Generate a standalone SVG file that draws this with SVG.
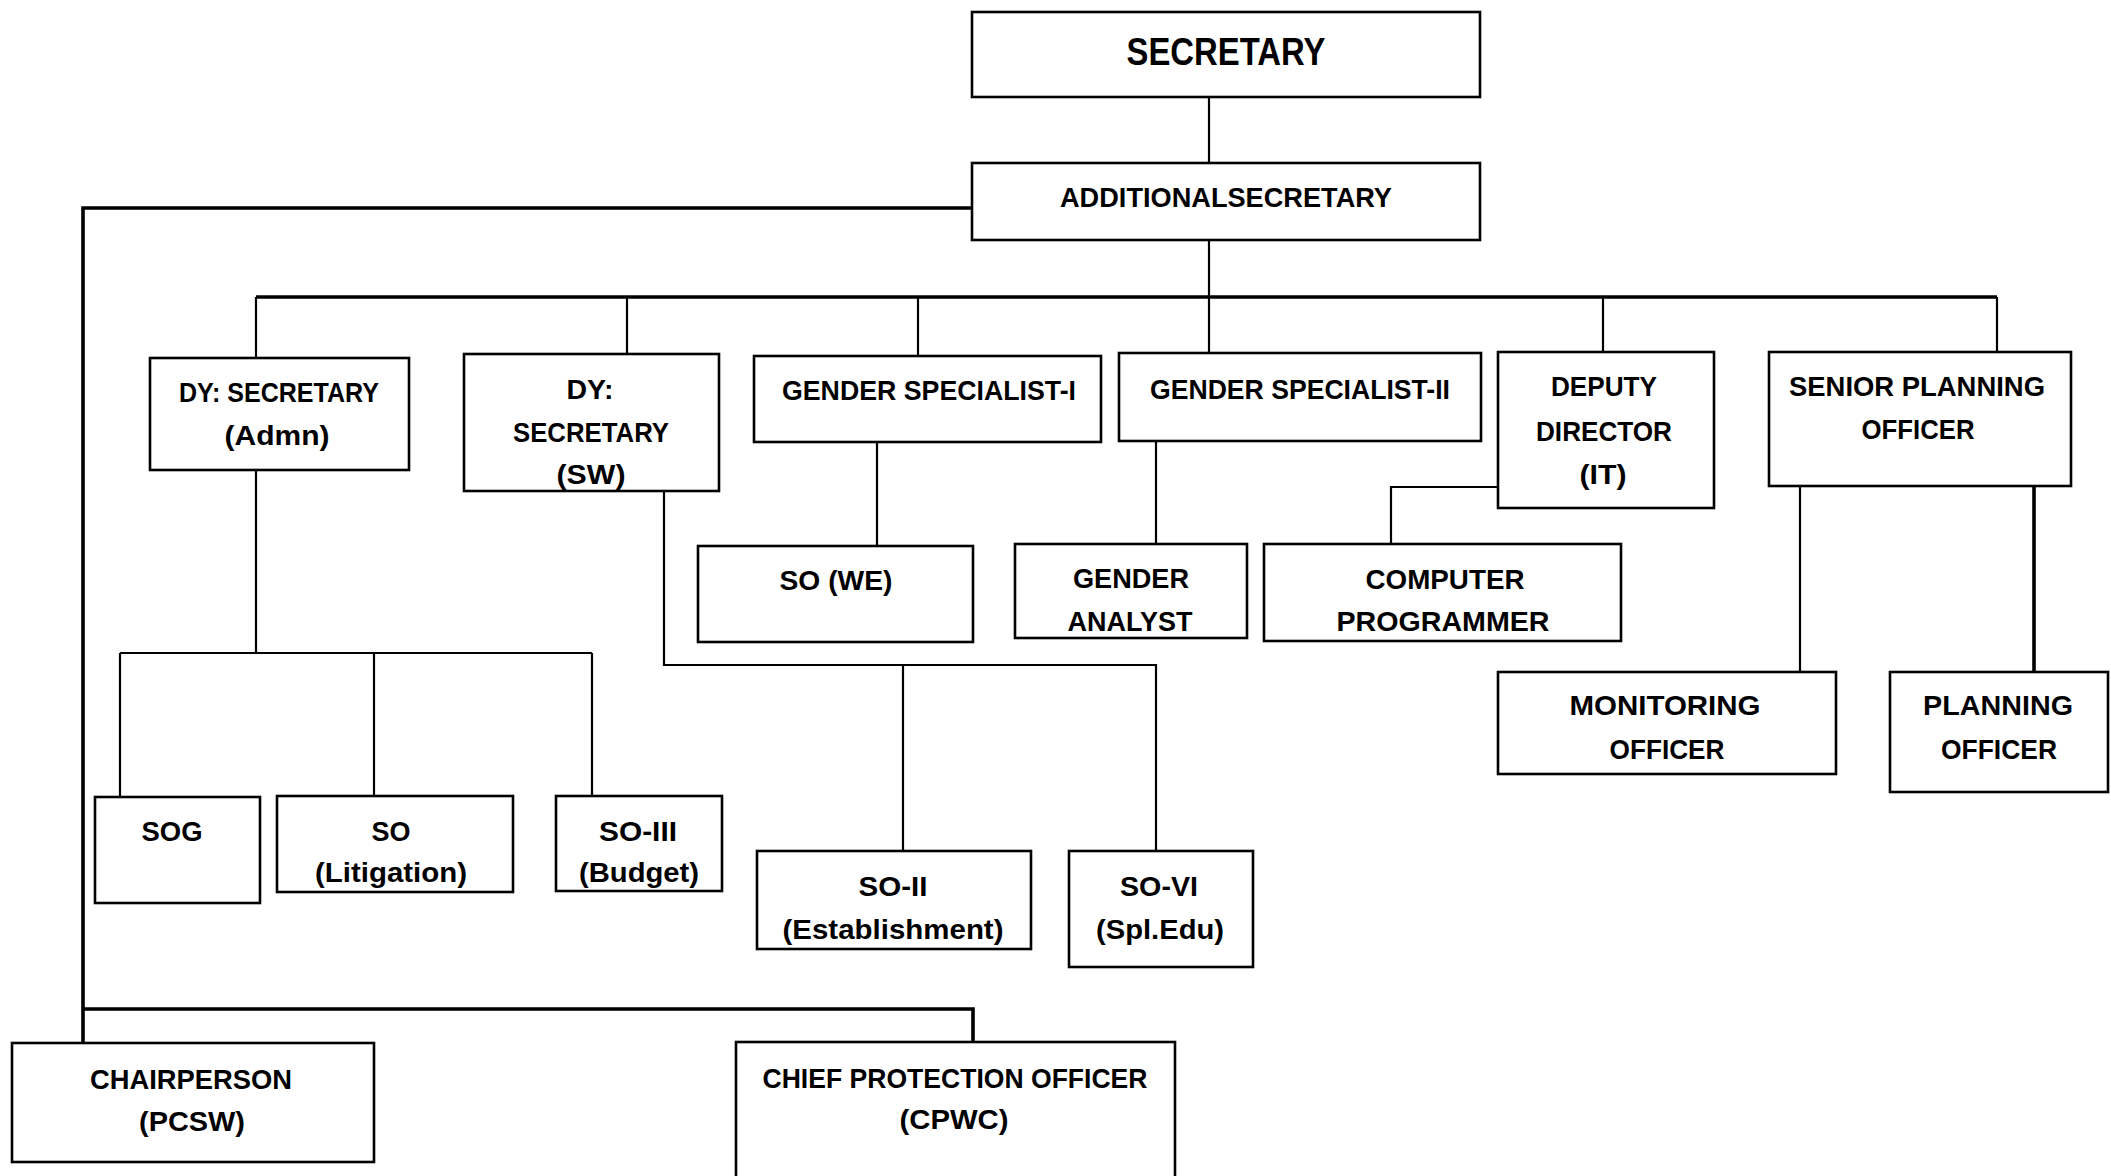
<svg xmlns="http://www.w3.org/2000/svg" width="2111" height="1176" viewBox="0 0 2111 1176">
<style>
.box{fill:#fff;stroke:#000;stroke-width:2.6}
.t{font-family:"Liberation Sans",Arial,sans-serif;font-weight:bold;font-size:28px;fill:#000;text-anchor:middle}
.big{font-size:38px}
.c{fill:none;stroke:#000;stroke-width:2.2}
.thick{stroke-width:3.6}
</style>
<rect width="2111" height="1176" fill="#fff"/>
<g id="connectors">
<path class="c" d="M1209 97V163"/>
<path class="c" d="M1209 240V353"/>
<path class="c thick" d="M256 297H1997"/>
<path class="c" d="M256 297V358M627 297V354M918 297V356M1603 297V352M1997 297V352"/>
<path class="c thick" d="M972 208H83V1043"/>
<path class="c thick" d="M83 1009H973V1042"/>
<path class="c" d="M256 470V653"/>
<path class="c" d="M120 653H592"/>
<path class="c" d="M120 653V797M374 653V796M592 653V796"/>
<path class="c" d="M664 491V665H1156V851"/>
<path class="c" d="M903 665V851"/>
<path class="c" d="M877 442V546"/>
<path class="c" d="M1156 442V544"/>
<path class="c" d="M1498 487H1391V544"/>
<path class="c" d="M1800 486V672"/>
<path class="c thick" d="M2034 486V672"/>
</g>
<g id="secretary"><rect class="box" x="972" y="12" width="508" height="85"/><text class="t big" x="1226" y="65" textLength="199" lengthAdjust="spacingAndGlyphs">SECRETARY</text></g>
<g id="additional-secretary"><rect class="box" x="972" y="163" width="508" height="77"/><text class="t" x="1226" y="207" textLength="332" lengthAdjust="spacingAndGlyphs">ADDITIONALSECRETARY</text></g>
<g id="dy-secretary-admn"><rect class="box" x="150" y="358" width="259" height="112"/><text class="t" x="279" y="402" textLength="200" lengthAdjust="spacingAndGlyphs">DY: SECRETARY</text><text class="t" x="277" y="445" textLength="105" lengthAdjust="spacingAndGlyphs">(Admn)</text></g>
<g id="dy-secretary-sw"><rect class="box" x="464" y="354" width="255" height="137"/><text class="t" x="590" y="399" textLength="47" lengthAdjust="spacingAndGlyphs">DY:</text><text class="t" x="591" y="442" textLength="156" lengthAdjust="spacingAndGlyphs">SECRETARY</text><text class="t" x="591" y="484" textLength="69" lengthAdjust="spacingAndGlyphs">(SW)</text></g>
<g id="gender-specialist-1"><rect class="box" x="754" y="356" width="347" height="86"/><text class="t" x="929" y="400" textLength="294" lengthAdjust="spacingAndGlyphs">GENDER SPECIALIST-I</text></g>
<g id="gender-specialist-2"><rect class="box" x="1119" y="353" width="362" height="88"/><text class="t" x="1300" y="399" textLength="300" lengthAdjust="spacingAndGlyphs">GENDER SPECIALIST-II</text></g>
<g id="deputy-director-it"><rect class="box" x="1498" y="352" width="216" height="156"/><text class="t" x="1604" y="396" textLength="106" lengthAdjust="spacingAndGlyphs">DEPUTY</text><text class="t" x="1604" y="441" textLength="136" lengthAdjust="spacingAndGlyphs">DIRECTOR</text><text class="t" x="1603" y="484" textLength="47" lengthAdjust="spacingAndGlyphs">(IT)</text></g>
<g id="senior-planning-officer"><rect class="box" x="1769" y="352" width="302" height="134"/><text class="t" x="1917" y="396" textLength="256" lengthAdjust="spacingAndGlyphs">SENIOR PLANNING</text><text class="t" x="1918" y="439" textLength="113" lengthAdjust="spacingAndGlyphs">OFFICER</text></g>
<g id="so-we"><rect class="box" x="698" y="546" width="275" height="96"/><text class="t" x="836" y="590" textLength="113" lengthAdjust="spacingAndGlyphs">SO (WE)</text></g>
<g id="gender-analyst"><rect class="box" x="1015" y="544" width="232" height="94"/><text class="t" x="1131" y="588" textLength="116" lengthAdjust="spacingAndGlyphs">GENDER</text><text class="t" x="1130" y="631" textLength="125" lengthAdjust="spacingAndGlyphs">ANALYST</text></g>
<g id="computer-programmer"><rect class="box" x="1264" y="544" width="357" height="97"/><text class="t" x="1445" y="589" textLength="159" lengthAdjust="spacingAndGlyphs">COMPUTER</text><text class="t" x="1443" y="631" textLength="213" lengthAdjust="spacingAndGlyphs">PROGRAMMER</text></g>
<g id="monitoring-officer"><rect class="box" x="1498" y="672" width="338" height="102"/><text class="t" x="1665" y="715" textLength="191" lengthAdjust="spacingAndGlyphs">MONITORING</text><text class="t" x="1667" y="759" textLength="115" lengthAdjust="spacingAndGlyphs">OFFICER</text></g>
<g id="planning-officer"><rect class="box" x="1890" y="672" width="218" height="120"/><text class="t" x="1998" y="715" textLength="150" lengthAdjust="spacingAndGlyphs">PLANNING</text><text class="t" x="1999" y="759" textLength="116" lengthAdjust="spacingAndGlyphs">OFFICER</text></g>
<g id="sog"><rect class="box" x="95" y="797" width="165" height="106"/><text class="t" x="172" y="841" textLength="61" lengthAdjust="spacingAndGlyphs">SOG</text></g>
<g id="so-litigation"><rect class="box" x="277" y="796" width="236" height="96"/><text class="t" x="391" y="841" textLength="39" lengthAdjust="spacingAndGlyphs">SO</text><text class="t" x="391" y="882" textLength="152" lengthAdjust="spacingAndGlyphs">(Litigation)</text></g>
<g id="so-iii-budget"><rect class="box" x="556" y="796" width="166" height="95"/><text class="t" x="638" y="841" textLength="78" lengthAdjust="spacingAndGlyphs">SO-III</text><text class="t" x="639" y="882" textLength="120" lengthAdjust="spacingAndGlyphs">(Budget)</text></g>
<g id="so-ii-establishment"><rect class="box" x="757" y="851" width="274" height="98"/><text class="t" x="893" y="896" textLength="69" lengthAdjust="spacingAndGlyphs">SO-II</text><text class="t" x="893" y="939" textLength="221" lengthAdjust="spacingAndGlyphs">(Establishment)</text></g>
<g id="so-vi-spl-edu"><rect class="box" x="1069" y="851" width="184" height="116"/><text class="t" x="1159" y="896" textLength="78" lengthAdjust="spacingAndGlyphs">SO-VI</text><text class="t" x="1160" y="939" textLength="128" lengthAdjust="spacingAndGlyphs">(Spl.Edu)</text></g>
<g id="chairperson-pcsw"><rect class="box" x="12" y="1043" width="362" height="119"/><text class="t" x="191" y="1089" textLength="202" lengthAdjust="spacingAndGlyphs">CHAIRPERSON</text><text class="t" x="192" y="1131" textLength="106" lengthAdjust="spacingAndGlyphs">(PCSW)</text></g>
<g id="chief-protection-officer-cpwc"><rect class="box" x="736" y="1042" width="439" height="145"/><text class="t" x="955" y="1088" textLength="385" lengthAdjust="spacingAndGlyphs">CHIEF PROTECTION OFFICER</text><text class="t" x="954" y="1129" textLength="109" lengthAdjust="spacingAndGlyphs">(CPWC)</text></g>
</svg>
